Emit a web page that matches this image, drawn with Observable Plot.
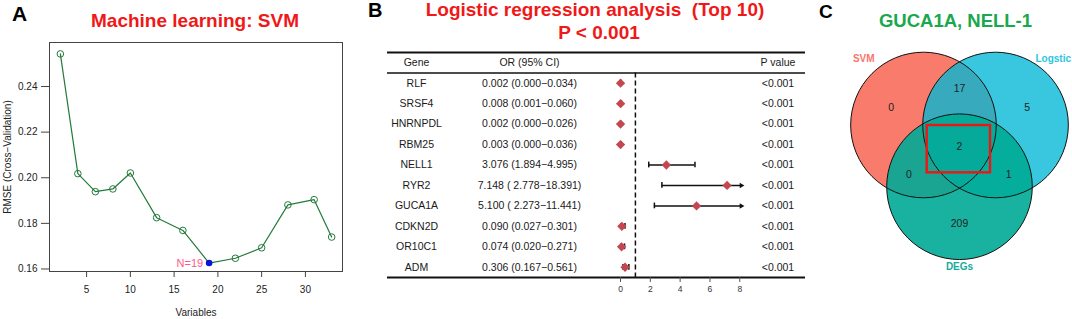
<!DOCTYPE html>
<html>
<head>
<meta charset="utf-8">
<script src="https://cdn.jsdelivr.net/npm/d3@7"></script>
<script src="https://cdn.jsdelivr.net/npm/@observablehq/plot@0.6"></script>
<style>
  body { margin: 0; background: #fff; }
  #fig { position: relative; width: 1072px; height: 319px; overflow: hidden; font-family: "Liberation Sans", Arial, sans-serif; }
  #fig > svg, #fig > figure { position: absolute; margin: 0; }
  .title { position: absolute; font-weight: bold; line-height: 1; white-space: pre; transform: translateX(-50%); }
  .letter { position: absolute; font-weight: bold; line-height: 1; color: #000; }
</style>
</head>
<body>
<div id="fig"></div>
<script>
// ---------------- Panel A: SVM-RFE cross-validation ----------------
const svmVariables = [2, 4, 6, 8, 10, 13, 16, 19, 22, 25, 28, 31, 33];
const svmRmse = [0.2543, 0.2018, 0.1939, 0.1951, 0.2021, 0.1825, 0.1769, 0.1626, 0.1647, 0.1693, 0.1881, 0.1904, 0.1740];
const svmXTicks = [5, 10, 15, 20, 25, 30];
const svmYTicks = [0.16, 0.18, 0.20, 0.22, 0.24];
const bestN = 19;

// ---------------- Panel B: logistic regression forest ----------------
const genes = ["RLF", "SRSF4", "HNRNPDL", "RBM25", "NELL1", "RYR2", "GUCA1A", "CDKN2D", "OR10C1", "ADM"];
const orValues = [0.002, 0.008, 0.002, 0.003, 3.076, 7.148, 5.100, 0.090, 0.074, 0.306];
const orLower  = [0.000, 0.001, 0.000, 0.000, 1.894, 2.778, 2.273, 0.027, 0.020, 0.167];
const orUpper  = [0.034, 0.060, 0.026, 0.036, 4.995, 18.391, 11.441, 0.301, 0.271, 0.561];
const orLabels = ["0.002 (0.000\u22120.034)", "0.008 (0.001\u22120.060)", "0.002 (0.000\u22120.026)",
                  "0.003 (0.000\u22120.036)", "3.076 (1.894\u22124.995)", "7.148 ( 2.778\u221218.391)",
                  "5.100 ( 2.273\u221211.441)", "0.090 (0.027\u22120.301)", "0.074 (0.020\u22120.271)",
                  "0.306 (0.167\u22120.561)"];
const pLabels = ["<0.001", "<0.001", "<0.001", "<0.001", "<0.001", "<0.001", "<0.001", "<0.001", "<0.001", "<0.001"];
const tableHeader = ["Gene", "OR (95% CI)", "P value"];
const forestTicks = [0, 2, 4, 6, 8];
const forestRef = 1;
const forestClip = 8.1;

// ---------------- Panel C: Venn ----------------
const vennSets = ["SVM", "Logstic", "DEGs"];
const vennRegions = ["SVM", "SVM&Logstic", "Logstic", "SVM&Logstic&DEGs", "SVM&DEGs", "Logstic&DEGs", "DEGs"];
const vennCounts = [0, 17, 5, 2, 0, 1, 209];

const FONT = "'Liberation Sans', Arial, sans-serif";
const fig = document.getElementById("fig");
function place(node, left, top) { node.style.left = left + "px"; node.style.top = top + "px"; fig.appendChild(node); }

// ===== Panel A =====
const dataA = svmVariables.map((n, i) => ({n, rmse: svmRmse[i]}));
const bestA = dataA.filter(d => d.n === bestN);
const restA = dataA.filter(d => d.n !== bestN);
const greenA = "#237a3a";
const plotA = Plot.plot({
  width: 360, height: 319,
  marginLeft: 49, marginRight: 18, marginTop: 42, marginBottom: 48,
  style: {fontFamily: FONT, fontSize: "10px", color: "#222", background: "transparent"},
  x: {domain: [0.76, 34.24]},
  y: {domain: [0.1589, 0.2593]},
  marks: [
    Plot.axisX({ticks: svmXTicks, tickSize: 6, tickPadding: 8, label: "Variables", labelAnchor: "center", labelOffset: 44, labelArrow: false, stroke: "#444"}),
    Plot.axisY({ticks: svmYTicks, tickFormat: d3.format(".2f"), tickSize: 8, tickPadding: 4, label: "RMSE (Cross\u2212Validation)", labelAnchor: "center", labelOffset: 46, labelArrow: false, stroke: "#444"}),
    Plot.frame({stroke: "#444"}),
    Plot.line(dataA, {x: "n", y: "rmse", stroke: greenA, strokeWidth: 1.2}),
    Plot.dot(restA, {x: "n", y: "rmse", r: 3.3, stroke: greenA, strokeWidth: 1, fill: "none"}),
    Plot.dot(bestA, {x: "n", y: "rmse", r: 3.3, fill: "#0a14d2"}),
    Plot.text(bestA, {x: "n", y: "rmse", text: d => `N=${d.n}`, textAnchor: "end", dx: -6, fill: "#ff5a87", fontSize: 11})
  ]
});
place(plotA, 0, 0);

// ===== Panel B =====
const rows = [{idx: 0, gene: tableHeader[0], or: tableHeader[1], p: tableHeader[2]}]
  .concat(genes.map((g, i) => ({idx: i + 1, gene: g, or: orLabels[i], p: pLabels[i]})));
const forest = genes.map((g, i) => ({idx: i + 1, gene: g, or: orValues[i], lower: orLower[i], upper: orUpper[i]}));
const nRows = rows.length;
const yB = {domain: [-0.5, nRows - 0.5], reverse: true, axis: null};
const frameB = {height: 319, marginTop: 52, marginBottom: 42, marginLeft: 0, marginRight: 0};
const styleB = {fontFamily: FONT, fontSize: "10.5px", color: "#1a1a1a", background: "transparent"};
const rulesB = () => [
  Plot.ruleY([-0.5], {stroke: "#111", strokeWidth: 2}),
  Plot.ruleY([0.5], {stroke: "#111", strokeWidth: 1.5}),
  Plot.ruleY([nRows - 0.5], {stroke: "#111", strokeWidth: 2.2})
];
function columnPlot(width, field) {
  return Plot.plot({
    ...frameB, width, style: styleB, y: yB,
    marks: [...rulesB(), Plot.text(rows, {y: "idx", text: field, frameAnchor: "middle", fill: "#1a1a1a"})]
  });
}
place(columnPlot(58, "gene"), 387, 0);
place(columnPlot(168, "or"), 445, 0);

const pxPerOR = 14.91, forestLeft = 613, forestWidth = 137, zeroPx = 620;
const clipped = forest.filter(d => d.upper > forestClip);
const unclipped = forest.filter(d => d.upper <= forestClip);
const plotForest = Plot.plot({
  ...frameB, width: forestWidth,
  style: {...styleB, fontSize: "8.5px", color: "#333"},
  x: {domain: [-(zeroPx - forestLeft) / pxPerOR, (forestWidth - (zeroPx - forestLeft)) / pxPerOR]},
  y: yB,
  marks: [
    ...rulesB(),
    Plot.axisX({ticks: forestTicks, tickSize: 5, tickPadding: 3, label: null, stroke: "#555"}),
    Plot.ruleX([forestRef], {y1: 0.5, y2: nRows - 0.5, stroke: "#111", strokeWidth: 1.5, strokeDasharray: "5,3"}),
    Plot.ruleY(forest, {y: "idx", x1: "lower", x2: d => Math.min(d.upper, forestClip), stroke: "#111", strokeWidth: 1.5}),
    Plot.ruleX(forest, {x: "lower", y1: d => d.idx - 0.14, y2: d => d.idx + 0.14, stroke: "#111", strokeWidth: 1.5}),
    Plot.ruleX(unclipped, {x: "upper", y1: d => d.idx - 0.14, y2: d => d.idx + 0.14, stroke: "#111", strokeWidth: 1.5}),
    Plot.dot(clipped, {x: () => forestClip, y: "idx", symbol: "triangle2", rotate: 90, r: 2.6, fill: "#111"}),
    Plot.dot(forest, {x: "or", y: "idx", symbol: "diamond2", r: 4.2, fill: "#c4474f"})
  ]
});
place(plotForest, forestLeft, 0);
place(columnPlot(55, "p"), 750, 0);

// ===== Panel C =====
const unitPx = 72.8, vennOrigin = [959, 124.5], vennBox = {left: 840, top: 40, width: 232, height: 240};
const vennCircles = [
  {set: vennSets[0], u: -0.495, v: 0, fill: "#f97b6b", opacity: 1},
  {set: vennSets[1], u: 0.495, v: 0, fill: "#00b7d6", opacity: 0.78},
  {set: vennSets[2], u: 0, v: -0.848, fill: "#00aa96", opacity: 0.9}
];
const regionPos = [[-0.938, 0.245], [0, 0.497], [0.93, 0.245], [0, -0.291], [-0.696, -0.684], [0.677, -0.684], [0, -1.357]];
const regionData = vennRegions.map((r, i) => ({region: r, count: vennCounts[i], u: regionPos[i][0], v: regionPos[i][1]}));
const setLabelPos = [[-1.315, 0.909], [1.287, 0.909], [0, -1.953]];
const setColors = ["#f8766d", "#2ec5dc", "#14ab9b"];
const setLabels = vennSets.map((s, i) => ({set: s, u: setLabelPos[i][0], v: setLabelPos[i][1], color: setColors[i]}));
const highlight = [{u1: -0.444, u2: 0.426, v1: -0.007, v2: -0.657}];
const uMin = (vennBox.left - vennOrigin[0]) / unitPx;
const vMax = (vennOrigin[1] - vennBox.top) / unitPx;
const plotC = Plot.plot({
  width: vennBox.width, height: vennBox.height,
  marginLeft: 0, marginRight: 0, marginTop: 0, marginBottom: 0,
  style: {fontFamily: FONT, fontSize: "10.5px", color: "#222", background: "transparent"},
  x: {domain: [uMin, uMin + vennBox.width / unitPx], axis: null},
  y: {domain: [vMax - vennBox.height / unitPx, vMax], axis: null},
  marks: [
    ...vennCircles.map(c => Plot.dot([c], {x: "u", y: "v", r: unitPx, fill: "fill", fillOpacity: c.opacity, stroke: "none"})),
    Plot.dot(vennCircles, {x: "u", y: "v", r: unitPx, fill: "none", stroke: "#111", strokeWidth: 1}),
    Plot.text(regionData, {x: "u", y: "v", text: "count", fill: "#222", fontSize: 10.5}),
    Plot.text(setLabels, {x: "u", y: "v", text: "set", fill: "color", fontWeight: "bold", fontSize: 10}),
    Plot.rect(highlight, {x1: "u1", x2: "u2", y1: "v1", y2: "v2", fill: "none", stroke: "#f01414", strokeWidth: 2.4})
  ]
});
place(plotC, vennBox.left, vennBox.top);

// ===== Titles & panel letters =====
function addText(cls, text, left, top, size, color) {
  const d = document.createElement("div");
  d.className = cls; d.textContent = text;
  d.style.left = left + "px"; d.style.top = top + "px"; d.style.fontSize = size + "px"; d.style.color = color;
  fig.appendChild(d);
}
addText("letter", "A", 12, 2.5, 21, "#000");
addText("letter", "B", 368, 0.4, 20, "#000");
addText("letter", "C", 819, 2.2, 19, "#000");
addText("title", "Machine learning: SVM", 195, 10.6, 19, "#f01818");
addText("title", "Logistic regression analysis  (Top 10)", 595, -0.1, 19, "#f01818");
addText("title", "P < 0.001", 599, 23.2, 19, "#f01818");
addText("title", "GUCA1A, NELL-1", 955.5, 11.6, 18.5, "#19a84e");
</script>
</body>
</html>
